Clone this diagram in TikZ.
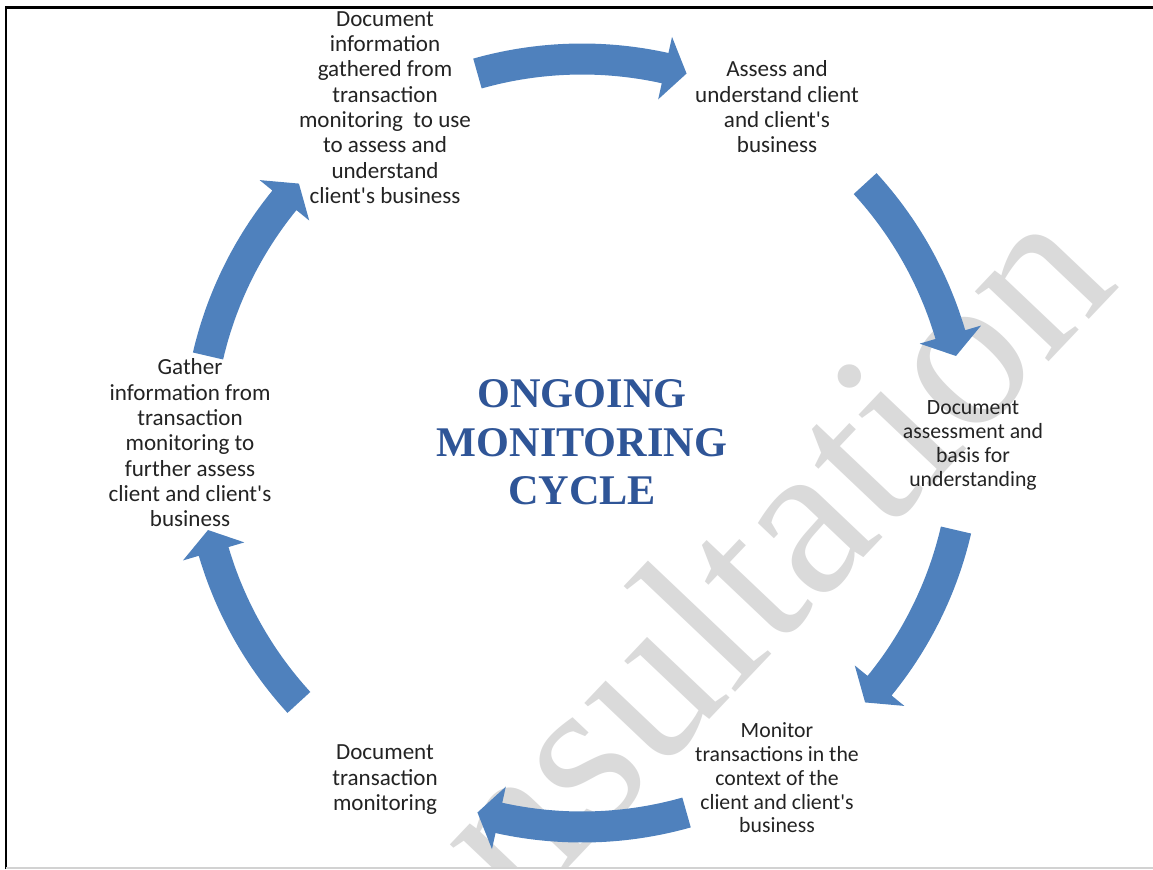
\documentclass[tikz,border=0pt]{standalone}
\usepackage{fontspec}
\setmainfont{Carlito}[Ligatures=TeXOff]
\newfontfamily\serifttl{Liberation Serif}
\definecolor{arrowblue}{RGB}{79,129,189}
\definecolor{titleblue}{RGB}{47,85,151}
\definecolor{wmgray}{RGB}{218,218,218}
\definecolor{txt}{RGB}{35,35,35}
\newcommand{\lst}{\rule[-0.3em]{0pt}{1.1em}}
% curved block arrow along the cycle: #1 tail angle, #2 tip angle (clockwise)
\newcommand{\cyclearrow}[2]{%
  \pgfmathsetmacro{\headang}{#2+3.3}%
  \fill[arrowblue] (#1:399.5) arc[start angle=#1, end angle=\headang, radius=399.5]
    -- (\headang:416) -- (#2:384) -- (\headang:352) -- (\headang:368.5)
    arc[start angle=\headang, end angle=#1, radius=368.5] -- cycle;}
\begin{document}
\begin{tikzpicture}[x=0.75pt,y=0.75pt,
  lbl/.style={align=center, text=txt, font=\fontsize{17.3}{19}\selectfont, inner sep=0pt},
  lbls/.style={align=center, text=txt, font=\fontsize{16.3}{17.8}\selectfont, inner sep=0pt}]
\useasboundingbox (0,0) rectangle (1153,-869);
% watermark
\begin{scope}
  \clip (7,-9) rectangle (1153,-867);
  \node[rotate=46.5, anchor=base east, text=wmgray, inner sep=0pt,
        font=\fontsize{166}{166}\selectfont\serifttl] (wm) at (1122,-285) {Consultation};
\end{scope}
% frame
\draw[line width=1.9pt] (6,-869) -- (6,-7.5) -- (1153,-7.5);
\draw[gray!35, line width=0.9pt] (6,-868) -- (1153,-868);
% cycle arrows
\coordinate (C) at (582,-443);
\begin{scope}[shift={(C)}]
  \cyclearrow{105.8}{74.2}
  \cyclearrow{42.5}{13.1}
  \cyclearrow{-13.1}{-42.5}
  \cyclearrow{-74.2}{-105.8}
  \cyclearrow{-137.5}{-166.9}
  \cyclearrow{166.9}{137.5}
\end{scope}
% title
\node[align=center, text=titleblue, inner sep=0pt,
      font=\fontsize{31.7}{36.4}\selectfont\serifttl\bfseries] (title) at (582,-442.5)
      {ONGOING\\MONITORING\\CYCLE};
% labels
\node[lbl] (n1) at (385,-109) {\lst Document\\information\\gathered from\\transaction\\monitoring\ \ to use\\to assess and\\understand\\client's business\lst};
\node[lbl] (n2) at (777,-109) {\lst Assess and\\understand client\\and client's\\business\lst};
\node[lbls] (n3) at (973,-445) {\lst Document\\assessment and\\basis for\\understanding\lst};
\node[lbls] (n4) at (777,-780) {\lst Monitor\\transactions in the\\context of the\\client and client's\\business\lst};
\node[lbl] (n5) at (385,-779.5) {\lst Document\\transaction\\monitoring\lst};
\node[lbl] (n6) at (190,-445) {\lst Gather\\information from\\transaction\\monitoring to\\further assess\\client and client's\\business\lst};
\end{tikzpicture}
\end{document}
